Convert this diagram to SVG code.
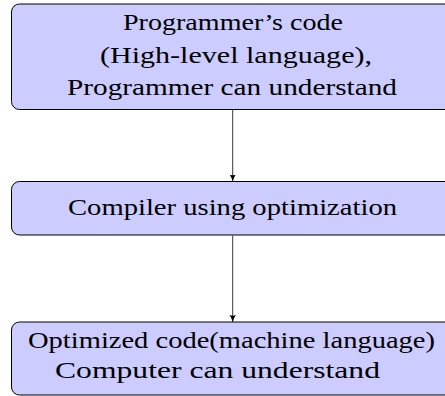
<svg xmlns="http://www.w3.org/2000/svg" width="445" height="396" viewBox="0 0 445 396">
<style>
.box{fill:#ccccff;stroke:#000;stroke-width:1}
.t{font-family:'Liberation Serif','DejaVu Serif',serif;font-size:23px;fill:#000;text-anchor:middle}
.c{stroke:#222;stroke-width:0.9;fill:none}
</style>
<defs>
<marker id="ah" markerWidth="8" markerHeight="8" refX="7" refY="4" orient="auto" markerUnits="userSpaceOnUse">
<path d="M0,0.8 Q3,3 7,4 Q3,5 0,7.2 Q1.5,4 0,0.8 Z" fill="#000"/>
</marker>
</defs>
<g id="n1">
<rect class="box" x="11.5" y="4" width="443" height="105.5" rx="8"/>
<text class="t" x="233" y="30" textLength="220" lengthAdjust="spacingAndGlyphs">Programmer’s code</text>
<text class="t" x="236" y="63" textLength="272" lengthAdjust="spacingAndGlyphs">(High-level language),</text>
<text class="t" x="232" y="95" textLength="330" lengthAdjust="spacingAndGlyphs">Programmer can understand</text>
</g>
<g id="n2">
<rect class="box" x="11.5" y="181.5" width="443" height="53.5" rx="8"/>
<text class="t" x="232.5" y="215" textLength="329" lengthAdjust="spacingAndGlyphs">Compiler using optimization</text>
</g>
<g id="n3">
<rect class="box" x="11.5" y="322" width="443" height="73" rx="8"/>
<text class="t" x="231.5" y="348" textLength="407" lengthAdjust="spacingAndGlyphs">Optimized code(machine language)</text>
<text class="t" x="217.5" y="378" textLength="325" lengthAdjust="spacingAndGlyphs">Computer can understand</text>
</g>
<g id="connectors">
<line class="c" x1="232.7" y1="110" x2="232.7" y2="181.5" marker-end="url(#ah)"/>
<line class="c" x1="232.7" y1="235.5" x2="232.7" y2="322" marker-end="url(#ah)"/>
</g>
</svg>
